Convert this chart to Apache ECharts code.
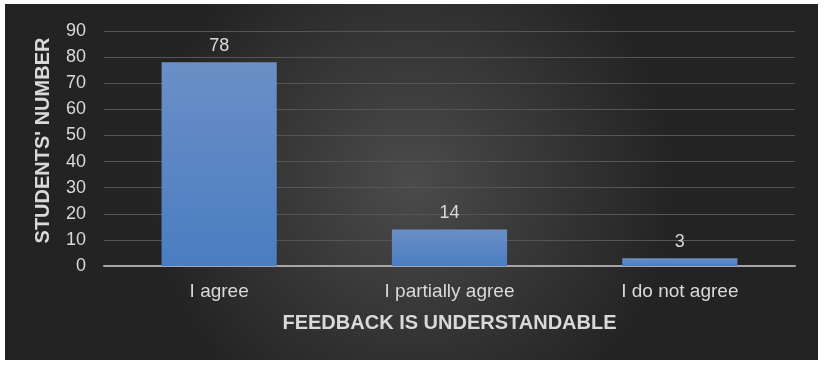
<!DOCTYPE html>
<html><head><meta charset="utf-8">
<script src="https://cdn.jsdelivr.net/npm/echarts@6/dist/echarts.min.js"></script>
<style>html,body{margin:0;padding:0;background:#fff}#c{width:825px;height:366px}</style>
</head><body><div id="c"></div>
<script>
const categories = ['I agree', 'I partially agree', 'I do not agree'];
const values = [78, 14, 3];
const yTicks = [0, 10, 20, 30, 40, 50, 60, 70, 80, 90];
const chart = echarts.init(document.getElementById('c'));
const font = '"Liberation Sans", Arial, sans-serif';
chart.setOption({
  backgroundColor: '#ffffff',
  graphic: [{
    type: 'rect', z: -10, silent: true,
    shape: { x: 5, y: 4, width: 813, height: 356 },
    style: { fill: { type: 'radial', x: 0.5, y: 0.5, r: 0.75,
      colorStops: [{ offset: 0, color: '#4b4b4b' }, { offset: 1, color: '#232323' }] } }
  }],
  grid: { left: 104, right: 30, top: 31, bottom: 100, containLabel: false },
  xAxis: {
    type: 'category', data: categories,
    name: 'FEEDBACK IS UNDERSTANDABLE', nameLocation: 'middle', nameGap: 47,
    nameTextStyle: { color: '#d9d9d9', fontSize: 20, fontWeight: 'bold', fontFamily: font },
    axisLine: { lineStyle: { color: '#a6a6a6', width: 2 } },
    axisTick: { show: false },
    axisLabel: { color: '#d9d9d9', fontSize: 19, fontFamily: font, margin: 16 }
  },
  yAxis: {
    type: 'value', min: yTicks[0], max: yTicks[yTicks.length - 1], interval: 10,
    name: "STUDENTS' NUMBER", nameLocation: 'middle', nameGap: 51,
    nameTextStyle: { color: '#d9d9d9', fontSize: 20, fontWeight: 'bold', fontFamily: font, padding: [0, 0, 0, 16] },
    axisLine: { show: false }, axisTick: { show: false },
    axisLabel: { color: '#d9d9d9', fontSize: 18, fontFamily: font, margin: 18 },
    splitLine: { lineStyle: { color: '#555555', width: 1 } }
  },
  series: [{
    type: 'bar', data: values, barWidth: '50%',
    itemStyle: { color: { type: 'linear', x: 0, y: 0, x2: 0, y2: 1,
      colorStops: [{ offset: 0, color: '#6b8fc6' }, { offset: 1, color: '#4a7dc1' }] } },
    label: { show: true, position: 'top', distance: 7, color: '#d9d9d9', fontSize: 18, fontFamily: font }
  }]
});
</script></body></html>
